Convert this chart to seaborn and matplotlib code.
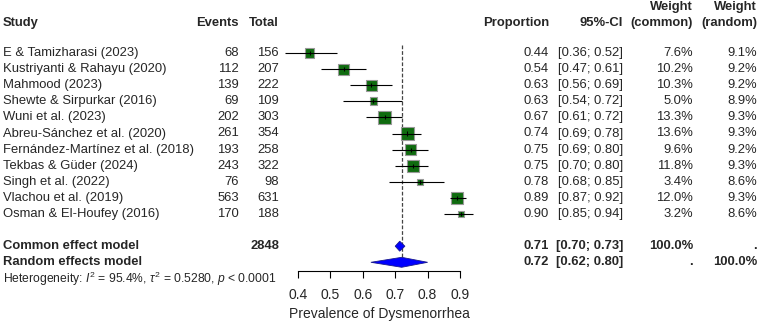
import numpy as np
import matplotlib
matplotlib.use("Agg")
import matplotlib.pyplot as plt
import matplotlib.transforms as mtransforms
from matplotlib.patches import Polygon
import seaborn as sns

# donnees
studies = ["E & Tamizharasi (2023)", "Kustriyanti & Rahayu (2020)", "Mahmood (2023)",
           "Shewte & Sirpurkar (2016)", "Wuni et al. (2023)", "Abreu-Sánchez et al. (2020)",
           "Fernández-Martínez et al. (2018)", "Tekbas & Güder (2024)", "Singh et al. (2022)",
           "Vlachou et al. (2019)", "Osman & El-Houfey (2016)"]
events = [68, 112, 139, 69, 202, 261, 193, 243, 76, 563, 170]
totals = [156, 207, 222, 109, 303, 354, 258, 322, 98, 631, 188]
prop = [0.44, 0.54, 0.63, 0.63, 0.67, 0.74, 0.75, 0.75, 0.78, 0.89, 0.90]
prop_exact = [0.436, 0.541, 0.626, 0.633, 0.667, 0.737, 0.748, 0.755, 0.776, 0.892, 0.904]
ci_low = [0.36, 0.47, 0.56, 0.54, 0.61, 0.69, 0.69, 0.70, 0.68, 0.87, 0.85]
ci_high = [0.52, 0.61, 0.69, 0.72, 0.72, 0.78, 0.80, 0.80, 0.85, 0.92, 0.94]
w_common = [7.6, 10.2, 10.3, 5.0, 13.3, 13.6, 9.6, 11.8, 3.4, 12.0, 3.2]
w_random = [9.1, 9.2, 9.2, 8.9, 9.3, 9.3, 9.2, 9.3, 8.6, 9.3, 8.6]

common_est, common_lo, common_hi = 0.714, 0.70, 0.73
random_est, random_lo, random_hi = 0.72, 0.625, 0.80
total_n = 2848
xticks = [0.4, 0.5, 0.6, 0.7, 0.8, 0.9]

sns.set_theme(style="white")
plt.rcParams['font.family'] = ['Liberation Sans', 'DejaVu Sans']
plt.rcParams['mathtext.fontset'] = 'custom'
plt.rcParams['mathtext.rm'] = 'Liberation Sans'
plt.rcParams['mathtext.it'] = 'Liberation Sans:italic'

W, H = 760, 321
fig = plt.figure(figsize=(W / 100, H / 100), dpi=100)
fig.patch.set_facecolor("white")

# zone du graphique : 0.4 -> x=298px, 0.9 -> x=460px
px_per_unit = 324.0
ax_l, ax_r = 280, 480
ax = fig.add_axes([ax_l / W, 0, (ax_r - ax_l) / W, 1])
ax.set_xlim(0.4 - (298 - ax_l) / px_per_unit, 0.4 + (ax_r - 298) / px_per_unit)
row0, drow = 53, 16.1
ax.set_ylim((H - row0) / drow, -row0 / drow)
ax.patch.set_alpha(0)

rows = np.arange(len(studies))
n = len(studies)
r_common, r_random, r_het = n + 1, n + 2, n + 3

# ligne de reference (effet aleatoire)
ax.plot([random_est, random_est], [-0.5, r_random - 0.3], ls=(0, (3, 1.5)), color="#444444", lw=0.9, zorder=1)

# carres proportionnels aux poids
sizes = [(3.5 * np.sqrt(w) * 0.72) ** 2 for w in w_common]
sns.scatterplot(x=prop_exact, y=rows, s=sizes, marker="s", color="#0f6b0f",
                edgecolor="#9a9a9a", linewidth=0.8, ax=ax, zorder=2, legend=False)
ax.hlines(rows, ci_low, ci_high, color="black", lw=0.8, zorder=3)
ax.vlines(prop_exact, rows - 0.13, rows + 0.13, color="black", lw=0.8, zorder=3)

# losanges
for est, lo, hi, r in [(common_est, common_lo, common_hi, r_common),
                       (random_est, random_lo, random_hi, r_random)]:
    ax.add_patch(Polygon([[lo, r], [est, r - 0.31], [hi, r], [est, r + 0.31]],
                         closed=True, facecolor="#0000ff", edgecolor="#1a1a8c", lw=0.6, zorder=4))

# axe
for s in ["top", "left", "right"]:
    ax.spines[s].set_visible(False)
ax.spines["bottom"].set_position(("data", (271 - row0) / drow))
ax.spines["bottom"].set_bounds(xticks[0], xticks[-1])
ax.spines["bottom"].set_color("black")
ax.spines["bottom"].set_linewidth(0.8)
ax.set_xticks(xticks)
ax.set_xticklabels([f"{t:.1f}" for t in xticks])
ax.tick_params(axis="x", direction="out", length=5, width=0.8, color="black",
               labelsize=10, pad=7, bottom=True)
ax.set_yticks([])
ax.text(0.65, (314 - row0) / drow, "Prevalence of Dysmenorrhea", ha="center", va="center", fontsize=10)

# colonnes de texte
tr = mtransforms.blended_transform_factory(fig.transFigure, ax.transData)
fs = 9.4
def col(xpx, y, s, ha="right", bold=False, size=fs):
    fig.text(xpx / W, y, s, transform=tr, ha=ha, va="center", fontsize=size,
             fontweight="bold" if bold else "normal")

y_h1 = (7 - row0) / drow
y_h2 = (23 - row0) / drow
col(3, y_h2, "Study", ha="left", bold=True)
col(239, y_h2, "Events", bold=True)
col(279, y_h2, "Total", bold=True)
col(549, y_h2, "Proportion", bold=True)
col(623, y_h2, "95%-CI", bold=True)
col(693, y_h1, "Weight", bold=True)
col(693, y_h2, "(common)", bold=True)
col(757, y_h1, "Weight", bold=True)
col(757, y_h2, "(random)", bold=True)

for i in range(n):
    col(3, i, studies[i], ha="left")
    col(239, i, str(events[i]))
    col(279, i, str(totals[i]))
    col(549, i, f"{prop[i]:.2f}")
    col(623, i, f"[{ci_low[i]:.2f}; {ci_high[i]:.2f}]")
    col(693, i, f"{w_common[i]:.1f}%")
    col(757, i, f"{w_random[i]:.1f}%")

col(3, r_common, "Common effect model", ha="left", bold=True)
col(279, r_common, str(total_n), bold=True)
col(549, r_common, "0.71", bold=True)
col(623, r_common, "[0.70; 0.73]", bold=True)
col(693, r_common, "100.0%", bold=True)
col(757, r_common, ".", bold=True)
col(3, r_random, "Random effects model", ha="left", bold=True)
col(549, r_random, "0.72", bold=True)
col(623, r_random, "[0.62; 0.80]", bold=True)
col(693, r_random, ".", bold=True)
col(757, r_random, "100.0%", bold=True)
col(3, r_het, r"Heterogeneity: $I^2$ = 95.4%, $\tau^2$ = 0.5280, $p$ < 0.0001", ha="left", size=8.7)

fig.savefig("out.png", dpi=100)
